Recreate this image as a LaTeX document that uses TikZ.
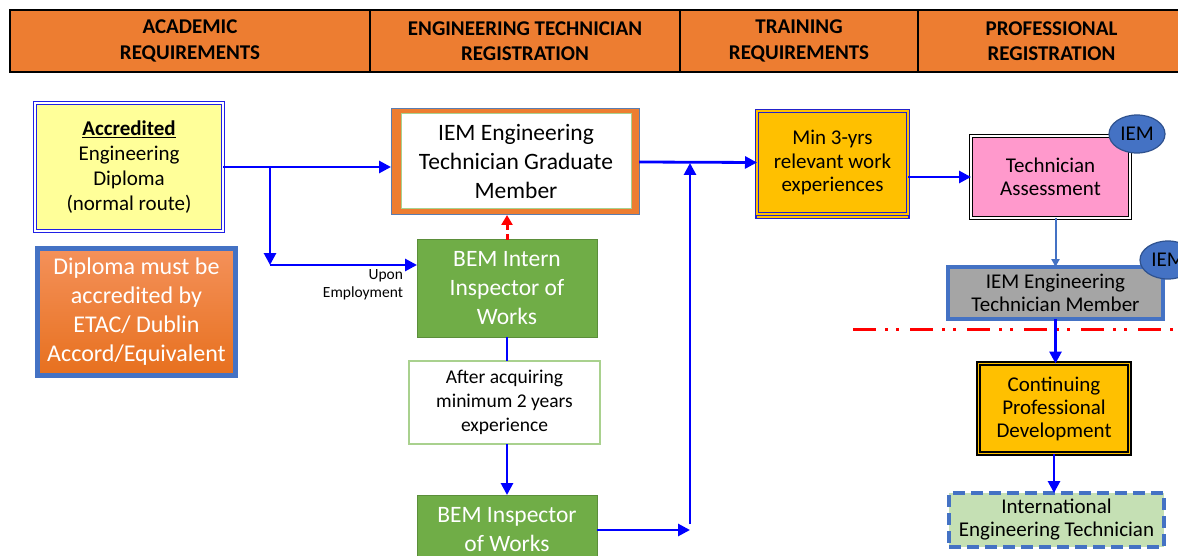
\documentclass[tikz,border=0pt]{standalone}
\usepackage{fontspec}
\setmainfont{Carlito}
\usetikzlibrary{arrows.meta,shapes.geometric}
\definecolor{hdr}{HTML}{ED7D31}
\definecolor{accblue}{HTML}{2020E6}
\definecolor{accyellow}{HTML}{FFFF99}
\definecolor{dblue}{HTML}{4472C4}
\definecolor{dtop}{HTML}{F4915A}
\definecolor{dbot}{HTML}{E7701E}
\definecolor{gframe}{HTML}{5A7DB0}
\definecolor{lgreen}{HTML}{A9D18E}
\definecolor{bgreen}{HTML}{70AD47}
\definecolor{dgreen}{HTML}{5B8E3A}
\definecolor{gold}{HTML}{FFC000}
\definecolor{mblue}{HTML}{2222CC}
\definecolor{pinkf}{HTML}{FF99CC}
\definecolor{iemblue}{HTML}{4472C4}
\definecolor{ieml}{HTML}{2F528F}
\definecolor{mgray}{HTML}{A5A5A5}
\definecolor{lgfill}{HTML}{C5E0B4}
\definecolor{arrblue}{HTML}{0000FF}
\definecolor{redl}{HTML}{FF0000}
\newcommand\myfs[2]{\fontsize{#1}{#2}\selectfont}
\begin{document}
\begin{tikzpicture}[x=1pt,y=-1pt,
  every node/.style={align=center, inner sep=2pt, outer sep=0pt},
  hdrcell/.style={draw=black, line width=2.2pt, fill=hdr, minimum height=62pt, inner sep=0pt, font=\myfs{21}{25.5}\bfseries},
  gbox/.style={draw=dgreen, line width=1pt, fill=bgreen, text=white, font=\myfs{23.5}{29}},
  iem/.style={ellipse, draw=ieml, line width=1.2pt, fill=iemblue, minimum width=56pt, minimum height=38pt, inner sep=0pt, font=\myfs{21}{23}},
  arr/.style={draw=arrblue, line width=2.8pt, -{Triangle[length=12pt,width=12pt]}},
  bline/.style={draw=arrblue, line width=2.8pt}
]
\useasboundingbox (0,0) rectangle (1178,556);

% header
\node[hdrcell, minimum width=360pt] (h1) at (190,41) {ACADEMIC\\REQUIREMENTS};
\node[hdrcell, minimum width=310pt] (h2) at (525,41) {ENGINEERING TECHNICIAN\\REGISTRATION};
\node[hdrcell, minimum width=238pt] (h3) at (799,41) {TRAINING\\REQUIREMENTS};
\node[hdrcell, minimum width=267pt] (h4) at (1051.5,41) {PROFESSIONAL\\REGISTRATION};

% academic
\node[draw=accblue, line width=1.3pt, double=white, double distance=2pt, fill=accyellow,
  minimum width=188pt, minimum height=128pt, font=\myfs{21}{25}] (acc) at (129,167)
  {\textbf{\underline{Accredited}}\\Engineering\\Diploma\\(normal route)};
\node[draw=dblue, line width=5pt, top color=dtop, bottom color=dbot, minimum width=198pt,
  minimum height=127pt, text=white, font=\myfs{24}{29}] (dip) at (136.5,312)
  {Diploma must be\\accredited by\\ETAC/ Dublin\\Accord/Equivalent};

% technician registration
\node[draw=gframe, line width=1pt, fill=hdr, minimum width=248pt, minimum height=106pt] (gradframe) at (515,162) {};
\node[draw=lgreen, line width=1pt, fill=white, minimum width=230pt, minimum height=95pt,
  font=\myfs{23.5}{29}] (grad) at (516,161.5) {IEM Engineering\\Technician Graduate\\Member};
\node[gbox, minimum width=180pt, minimum height=97pt] (intern) at (507,288.5) {BEM Intern\\Inspector of\\Works};
\node[draw=lgreen, line width=1.2pt, fill=white, minimum width=191pt, minimum height=83pt,
  font=\myfs{19.5}{24}] (after) at (504.5,402.5) {After acquiring\\minimum 2 years\\experience};
\node[gbox, minimum width=180pt, minimum height=70pt] (insp) at (507,530) {BEM Inspector\\of Works};
\node[anchor=east, align=right, font=\myfs{15.5}{18}, inner sep=0pt] (upon) at (403,285) {Upon\\Employment};

% training
\node[draw=mblue, line width=1.2pt, fill=gold, minimum width=153pt, minimum height=105pt] (min3s) at (832.5,166) {};
\node[draw=mblue, line width=1.3pt, double=gold, double distance=1.5pt, fill=gold,
  minimum width=151pt, minimum height=103pt, font=\myfs{21}{23.5}] (min3) at (832.5,162.5)
  {Min 3-yrs\\relevant work\\experiences};

% professional
\node[draw=black, line width=1.3pt, double=white, double distance=2pt, fill=pinkf,
  minimum width=159pt, minimum height=82pt, font=\myfs{21}{23}] (ta) at (1050.5,177) {Technician\\Assessment};
\node[iem] (iem1) at (1137,134) {IEM};
\node[draw=dblue, line width=4pt, fill=mgray, minimum width=215pt, minimum height=52pt,
  font=\myfs{21}{22.5}] (member) at (1055.5,293) {IEM Engineering\\Technician Member};
\node[iem] (iem2) at (1168,260) {IEM};

\coordinate (r1) at (853,329);
\coordinate (r2) at (1185,329);
\draw[redl, line width=3pt, dash pattern=on 23pt off 9pt on 3pt off 8pt on 3pt off 11pt] (r1) -- (r2);

\node[draw=black, line width=1.3pt, double=gold, double distance=1.5pt, fill=gold,
  minimum width=151pt, minimum height=90pt, font=\myfs{21}{23}] (cpd) at (1054,408.5)
  {Continuing\\Professional\\Development};
\node[draw=dblue, line width=3.5pt, dash pattern=on 12pt off 6pt, fill=lgfill,
  minimum width=215pt, minimum height=54pt, font=\myfs{21}{23}] (intl) at (1056.5,520)
  {International\\Engineering Technician};

% connectors
\coordinate (b1) at (270,167);
\coordinate (b2) at (270,265);
\coordinate (v1) at (690,524);
\coordinate (v2) at (690,163);
\draw[arr] (acc.east) -- (acc.east -| gradframe.west);
\draw[arr] (b1) -- (b2);
\draw[arr] (b2) -- (b2 -| intern.west);
\draw[redl, line width=3pt, dash pattern=on 6pt off 4pt, -{Triangle[length=10pt,width=11pt]}]
  (intern.north) -- (intern.north |- gradframe.south);
\draw[bline] (intern.south) -- (intern.south |- after.north);
\draw[arr] (insp.north |- after.south) -- (insp.north);
\draw[arr] (insp.east) -- (insp.east -| v1);
\draw[arr] (v1) -- (v2);
\draw[arr] (gradframe.east) -- (min3.west);
\draw[arr] (ta.west -| min3.east) -- (ta.west);
\draw[draw=dblue, line width=2pt, -{Triangle[length=8pt,width=8pt]}] (ta.south -| member.north) -- (member.north);
\draw[arr] (member.south) -- (member.south |- cpd.north);
\draw[arr] (cpd.south) -- (cpd.south |- intl.north);
\end{tikzpicture}
\end{document}
